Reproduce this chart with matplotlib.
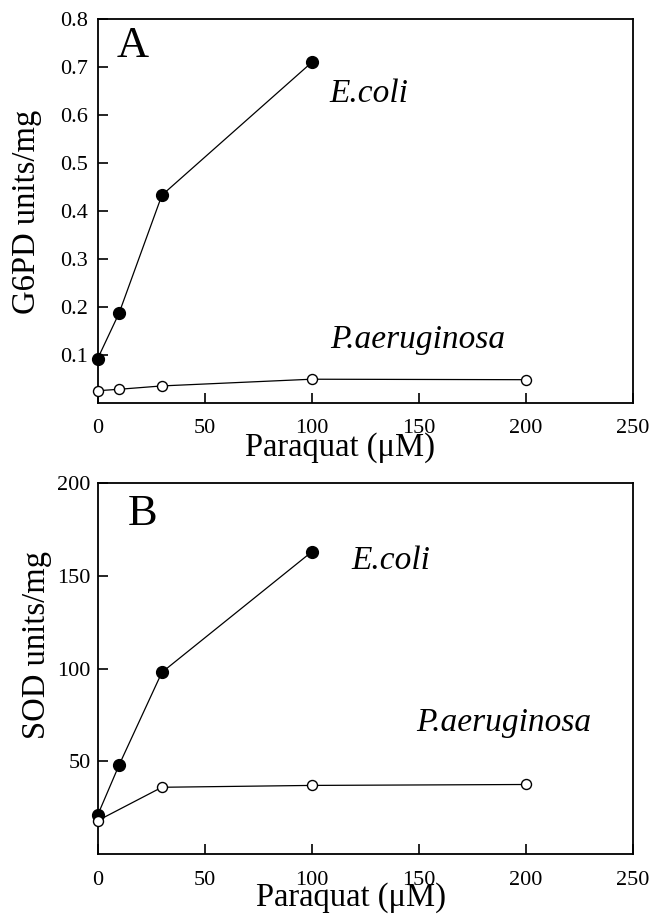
import matplotlib
matplotlib.use("Agg")
import matplotlib.pyplot as plt

plt.rcParams['font.family'] = ['Liberation Serif', 'DejaVu Serif']
plt.rcParams['mathtext.fontset'] = 'stix'

# Panel A data (G6PD)
x_ecoli_a = [0, 10, 30, 100]
y_ecoli_a = [0.092, 0.187, 0.433, 0.71]
x_pa_a = [0, 10, 30, 100, 200]
y_pa_a = [0.025, 0.028, 0.035, 0.049, 0.048]

# Panel B data (SOD)
x_ecoli_b = [0, 10, 30, 100]
y_ecoli_b = [21, 48, 98, 163]
x_pa_b = [0, 30, 100, 200]
y_pa_b = [18, 36, 37, 37.5]

xticks = [0, 50, 100, 150, 200, 250]
yticks_a = [0.1, 0.2, 0.3, 0.4, 0.5, 0.6, 0.7, 0.8]
yticks_b = [50, 100, 150, 200]

W, H = 654, 916
fig = plt.figure(figsize=(W/100, H/100), dpi=100)

def px_axes(l, t, r, b):
    return fig.add_axes([l/W, 1-b/H, (r-l)/W, (b-t)/H])

axA = px_axes(97.7, 19.3, 632.7, 402.7)
axB = px_axes(97.7, 483.3, 632.7, 854)

def style(ax, ylim, yticks, ylabels, ypad):
    ax.set_xlim(0, 250)
    ax.set_ylim(*ylim)
    ax.set_xticks(xticks)
    ax.set_yticks(yticks)
    ax.set_yticklabels(ylabels)
    for s in ax.spines.values():
        s.set_linewidth(1.3)
    ax.tick_params(axis='both', direction='in', length=7, width=1.2, labelsize=16)
    ax.tick_params(axis='x', pad=12)
    ax.tick_params(axis='y', pad=ypad)
    ax.tick_params(top=False, right=False)

def draw(ax, xe, ye, xp, yp):
    ax.plot(xe, ye, '-', color='black', lw=0.9, marker='o', ms=8.5,
            mfc='black', mec='black', zorder=3, clip_on=False)
    ax.plot(xp, yp, '-', color='black', lw=0.9, marker='o', ms=7.2,
            mfc='white', mec='black', mew=1.0, zorder=4, clip_on=False)

draw(axA, x_ecoli_a, y_ecoli_a, x_pa_a, y_pa_a)
draw(axB, x_ecoli_b, y_ecoli_b, x_pa_b, y_pa_b)

style(axA, (0, 0.8), yticks_a, [f"{v:.1f}" for v in yticks_a], 7)
style(axB, (0, 200), yticks_b, [str(v) for v in yticks_b], 5)

axA.text(108.5, 0.645, "E.coli", style='italic', fontsize=24, va='center', ha='left')
axA.text(108.5, 0.131, "P.aeruginosa", style='italic', fontsize=24, va='center', ha='left')
axA.text(9, 0.787, "A", fontsize=32, va='top', ha='left')

axB.text(118.5, 158, "E.coli", style='italic', fontsize=24, va='center', ha='left')
axB.text(149, 71, "P.aeruginosa", style='italic', fontsize=24, va='center', ha='left')
axB.text(14, 194, "B", fontsize=32, va='top', ha='left')

fig.text(340/W, 1-448/H, "Paraquat (μM)", fontsize=23.5, ha='center', va='center')
fig.text(351/W, 1-898/H, "Paraquat (μM)", fontsize=23.5, ha='center', va='center')
fig.text(27/W, 1-212/H, "G6PD units/mg", fontsize=23.5, ha='center', va='center', rotation=90)
fig.text(37/W, 1-645/H, "SOD units/mg", fontsize=23.5, ha='center', va='center', rotation=90)

fig.savefig("out.png", dpi=100)
